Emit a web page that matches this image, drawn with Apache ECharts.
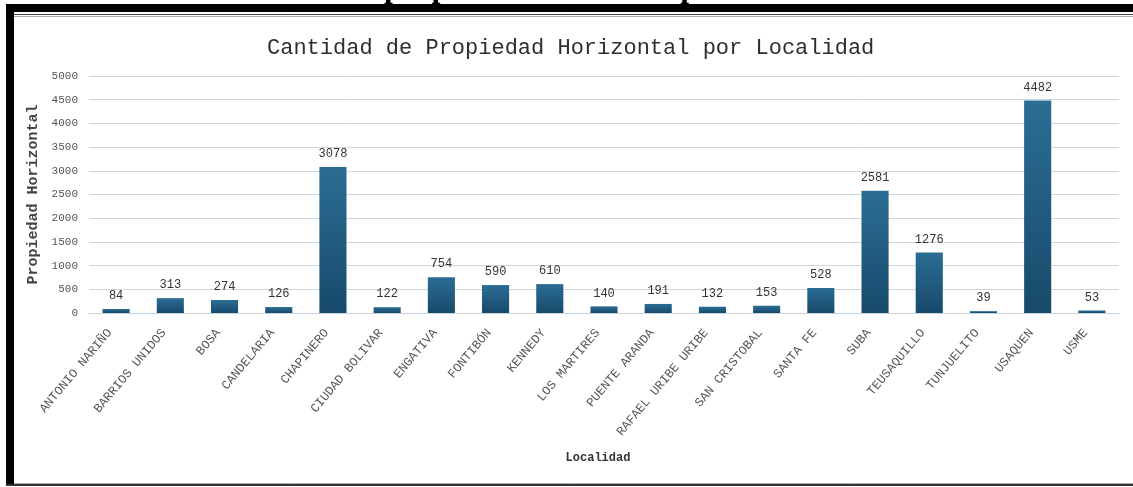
<!DOCTYPE html>
<html>
<head>
<meta charset="utf-8">
<script src="https://cdn.jsdelivr.net/npm/echarts@6/dist/echarts.min.js"></script>
<style>
  html, body { margin: 0; padding: 0; background: #fff; }
  #chart { width: 1133px; height: 487px; }
</style>
</head>
<body>
<div id="chart"></div>
<script>
// Localidades de Bogotá y cantidad de propiedad horizontal en cada una
const localidades = [
  'ANTONIO NARIÑO', 'BARRIOS UNIDOS', 'BOSA', 'CANDELARIA', 'CHAPINERO',
  'CIUDAD BOLIVAR', 'ENGATIVA', 'FONTIBÓN', 'KENNEDY', 'LOS MARTIRES',
  'PUENTE ARANDA', 'RAFAEL URIBE URIBE', 'SAN CRISTOBAL', 'SANTA FE', 'SUBA',
  'TEUSAQUILLO', 'TUNJUELITO', 'USAQUEN', 'USME'
];
const cantidades = [84, 313, 274, 126, 3078, 122, 754, 590, 610, 140, 191, 132, 153, 528, 2581, 1276, 39, 4482, 53];

const yMin = 0, yMax = 5000, yStep = 500;

const mono = '"Liberation Mono", "Courier New", monospace';

const chart = echarts.init(document.getElementById('chart'), null, { renderer: 'canvas' });

chart.setOption({
  backgroundColor: '#ffffff',
  animation: false,
  title: {
    text: 'Cantidad de Propiedad Horizontal por Localidad',
    left: 262,
    top: 32,
    textStyle: { fontFamily: mono, fontSize: 22, fontWeight: 'normal', color: '#2e2e2e' }
  },
  grid: { left: 89, right: 14, top: 76, bottom: 174, containLabel: false },
  xAxis: {
    type: 'category',
    data: localidades,
    name: 'Localidad',
    nameLocation: 'middle',
    nameGap: 139,
    nameTextStyle: { fontFamily: mono, fontSize: 12, fontWeight: 'bold', color: '#333', padding: [0, 12, 0, 0] },
    axisLine: { lineStyle: { color: '#c7d3de', width: 1 } },
    axisTick: { show: false },
    axisLabel: {
      rotate: 50,
      interval: 0,
      margin: 10,
      padding: [0, 10, 0, 0],
      fontFamily: mono,
      fontSize: 12.5,
      color: '#555'
    }
  },
  yAxis: {
    type: 'value',
    min: yMin,
    max: yMax,
    interval: yStep,
    name: 'Propiedad Horizontal',
    nameLocation: 'middle',
    nameGap: 42,
    nameTextStyle: { fontFamily: mono, fontSize: 15, fontWeight: 'bold', color: '#444' },
    axisLine: { show: false },
    axisTick: { show: false },
    axisLabel: {
      fontFamily: mono, fontSize: 11, color: '#555', margin: 11,
      formatter: v => String(v)
    },
    splitLine: { lineStyle: { color: '#cad6e1', width: 1 } }
  },
  series: [{
    type: 'bar',
    data: cantidades,
    barWidth: '50%',
    itemStyle: {
      color: new echarts.graphic.LinearGradient(0, 0, 0, 1, [
        { offset: 0, color: '#2c6d94' },
        { offset: 1, color: '#174a6b' }
      ])
    },
    label: {
      show: true,
      position: 'top',
      distance: 7,
      fontFamily: mono,
      fontSize: 12,
      color: '#333'
    }
  }],
  graphic: [
    // cabecera recortada sobre el marco
    {
      type: 'text', silent: true,
      style: {
        x: 384, y: 5, verticalAlign: 'bottom',
        text: 'propiedad horizontal por',
        font: 'bold 32px "Liberation Serif", serif', fill: '#000'
      }
    },
    // marco negro superior e izquierdo
    { type: 'rect', shape: { x: 6, y: 4, width: 1127, height: 8 }, style: { fill: '#000' }, silent: true },
    { type: 'rect', shape: { x: 6, y: 4, width: 8, height: 481 }, style: { fill: '#000' }, silent: true },
    // doble línea bajo la cabecera
    { type: 'line', shape: { x1: 14, y1: 14.5, x2: 1133, y2: 14.5 }, style: { stroke: '#444', lineWidth: 1 }, silent: true },
    { type: 'line', shape: { x1: 14, y1: 16.5, x2: 1133, y2: 16.5 }, style: { stroke: '#aaa', lineWidth: 1 }, silent: true },
    // línea inferior
    { type: 'line', shape: { x1: 6, y1: 485, x2: 1133, y2: 485 }, style: { stroke: '#333', lineWidth: 2 }, silent: true },
    { type: 'line', shape: { x1: 14, y1: 483.5, x2: 1133, y2: 483.5 }, style: { stroke: '#aaa', lineWidth: 1 }, silent: true }
  ]
});
</script>
</body>
</html>
